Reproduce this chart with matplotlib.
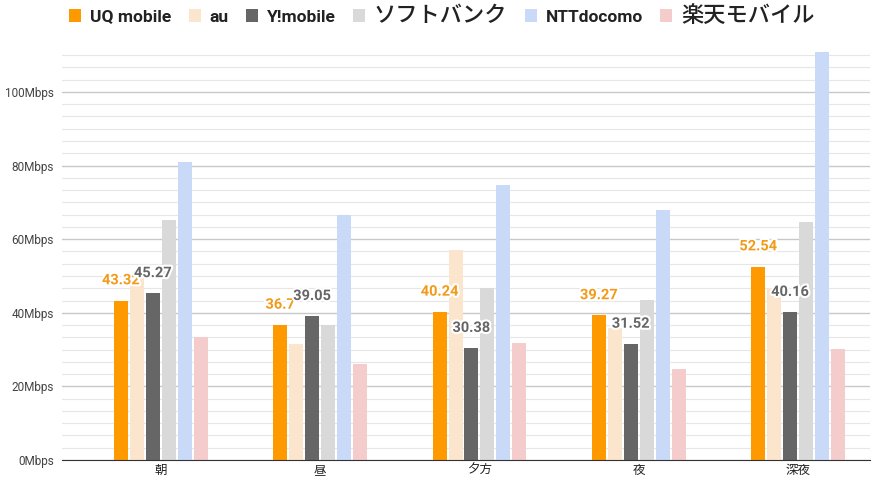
import numpy as np
import matplotlib
matplotlib.use("Agg")
import matplotlib.pyplot as plt
from matplotlib.ticker import MultipleLocator, FuncFormatter
from matplotlib.patches import Patch
import matplotlib.patheffects as pe

plt.rcParams['font.family'] = ['Roboto', 'Noto Sans CJK JP', 'DejaVu Sans']

periods = ['朝', '昼', '夕方', '夜', '深夜']
carriers = ['UQ mobile', 'au', 'Y!mobile', 'ソフトバンク', 'NTTdocomo', '楽天モバイル']
colors = ['#ff9900', '#fce5cd', '#666666', '#d9d9d9', '#c9daf8', '#f4cccc']

uq = [43.32, 36.7, 40.24, 39.27, 52.54]
au = [49.5, 31.5, 57.0, 35.9, 46.8]
ymobile = [45.27, 39.05, 30.38, 31.52, 40.16]
softbank = [65.3, 36.6, 46.8, 43.4, 64.7]
docomo = [81.0, 66.6, 74.8, 68.0, 110.9]
rakuten = [33.3, 26.1, 31.8, 24.8, 30.2]

series = [uq, au, ymobile, softbank, docomo, rakuten]

fig = plt.figure(figsize=(8.75, 4.84), dpi=100)
ax = fig.add_axes([0.0709, 0.0496, 0.9231, 0.8517])

x = np.arange(len(periods))
pitch = 0.1
width = 0.088
for i, vals in enumerate(series):
    ax.bar(x + (i - 2.5) * pitch, vals, width, color=colors[i], zorder=3)

# data labels for UQ mobile and Y!mobile
stroke = [pe.withStroke(linewidth=3, foreground='white')]
for j in range(len(periods)):
    ax.text(x[j] - 2.5 * pitch, uq[j] + 3.6, f"{uq[j]:g}", ha='center', va='bottom',
            fontsize=10.5, fontweight='bold', color='#f29a1a', zorder=5, path_effects=stroke)
    ax.text(x[j] - 0.5 * pitch, ymobile[j] + 3.6, f"{ymobile[j]:g}", ha='center', va='bottom',
            fontsize=10.5, fontweight='bold', color='#666666', zorder=5, path_effects=stroke)

ax.set_xlim(-0.62, 4.45)
ax.set_ylim(0, 112)
ax.yaxis.set_major_locator(MultipleLocator(20))
ax.yaxis.set_minor_locator(MultipleLocator(20 / 6))
ax.yaxis.set_major_formatter(FuncFormatter(lambda v, p: f"{v:.0f}Mbps"))
ax.grid(axis='y', which='major', color='#c8c8c8', linewidth=1, zorder=0)
ax.grid(axis='y', which='minor', color='#e6e6e6', linewidth=0.8, zorder=0)
ax.set_xticks(x)
ax.set_xticklabels(periods, fontsize=9, color='#222222')
ax.tick_params(axis='x', length=0, pad=3)
ax.tick_params(axis='y', which='both', length=0, labelsize=8.5, labelcolor='#444444', pad=6)
for s in ['top', 'right', 'left']:
    ax.spines[s].set_visible(False)
ax.spines['bottom'].set_color('#333333')
ax.spines['bottom'].set_zorder(4)

handles = [Patch(facecolor=c, edgecolor='none') for c in colors]
leg = fig.legend(handles, carriers, loc='upper center', bbox_to_anchor=(0.505, 1.025), ncol=6,
                 frameon=False, handlelength=0.7, handleheight=0.7, handletextpad=0.5,
                 columnspacing=1.0, fontsize=12.5)
for t, lab in zip(leg.get_texts(), carriers):
    if lab in ('ソフトバンク', '楽天モバイル'):
        t.set_fontsize(16)
        t.set_fontweight('medium')
        t.set_family(['Noto Sans CJK JP', 'DejaVu Sans'])
    else:
        t.set_fontweight('bold')
    t.set_color('#222222')

fig.savefig('out.png', dpi=100)
